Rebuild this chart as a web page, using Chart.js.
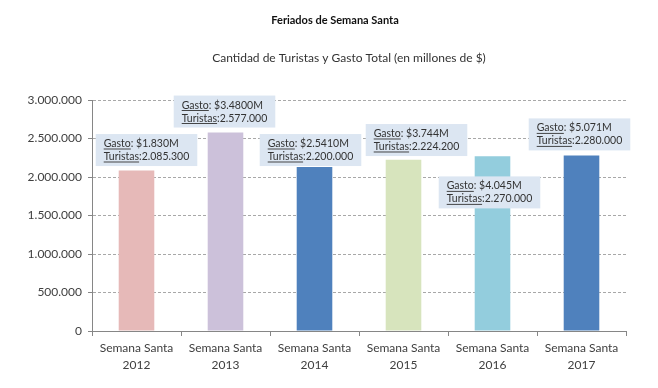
<!DOCTYPE html>
<html><head><meta charset="utf-8">
<script src="https://cdn.jsdelivr.net/npm/chart.js@4"></script>
<style>html,body{margin:0;padding:0;background:#fff}#wrap{width:658px;height:388px}</style>
</head><body><div id="wrap"><canvas id="c" width="658" height="388"></canvas></div>
<script>
const categories = [['Semana Santa','2012'],['Semana Santa','2013'],['Semana Santa','2014'],['Semana Santa','2015'],['Semana Santa','2016'],['Semana Santa','2017']];
const turistas = [2085300, 2577000, 2130000, 2224200, 2270000, 2280000];
const gastoLabels = ['$1.830M', '$3.4800M', '$2.5410M', '$3.744M', '$4.045M', '$5.071M'];
const turistasLabels = ['2.085.300', '2.577.000', '2.200.000', '2.224.200', '2.270.000', '2.280.000'];
const yTicks = [0, 500000, 1000000, 1500000, 2000000, 2500000, 3000000];
const titleText = 'Feriados de Semana Santa';
const subtitleText = 'Cantidad de Turistas y Gasto Total (en millones de $)';

const barColors = ['#E6B9B8', '#CCC1DA', '#4F81BD', '#D7E4BD', '#93CDDD', '#4F81BD'];
// callout placement: horizontal pixel shift from bar centre, vertical centre in data units
const calloutPos = [
  {dx: 10, y: 2350000}, {dx: -1, y: 2850000}, {dx: -4, y: 2350000},
  {dx: 13, y: 2480000}, {dx: -3, y: 1800000}, {dx: -2, y: 2553000}
];
const FONT = 'Lato, "Open Sans", sans-serif';

function fmt(v){ return String(v).replace(/\B(?=(\d{3})+(?!\d))/g, '.'); }

const titlePlugin = {
  id: 'titles',
  afterDraw(chart){
    const ctx = chart.ctx;
    ctx.save();
    ctx.textAlign = 'center';
    ctx.textBaseline = 'middle';
    ctx.fillStyle = '#111';
    ctx.font = 'bold 11px ' + FONT;
    ctx.fillText(titleText, 335, 20);
    ctx.fillStyle = '#333';
    ctx.font = '12px ' + FONT;
    ctx.fillText(subtitleText, 349, 58);
    ctx.restore();
  }
};

const calloutPlugin = {
  id: 'callouts',
  afterDatasetsDraw(chart){
    const ctx = chart.ctx;
    const meta = chart.getDatasetMeta(0);
    const ys = chart.scales.y;
    ctx.save();
    ctx.font = '10.5px ' + FONT;
    meta.data.forEach((bar, i) => {
      const l1a = 'Gasto', l1b = ': ' + gastoLabels[i];
      const l2a = 'Turistas', l2b = ':' + turistasLabels[i];
      const w1 = ctx.measureText(l1a + l1b).width;
      const w2 = ctx.measureText(l2a + l2b).width;
      const w = Math.max(w1, w2) + 16;
      const h = 32;
      const cx = bar.x + calloutPos[i].dx;
      const cy = ys.getPixelForValue(calloutPos[i].y);
      const left = cx - w / 2, top = cy - h / 2;
      ctx.fillStyle = '#DCE6F2';
      ctx.fillRect(left, top, w, h);
      ctx.fillStyle = '#333';
      ctx.textBaseline = 'alphabetic';
      ctx.textAlign = 'left';
      const tx = left + 8;
      [[l1a, l1b, top + 13], [l2a, l2b, top + 26]].forEach(([a, b, by]) => {
        ctx.fillText(a, tx, by);
        const wa = ctx.measureText(a).width;
        ctx.fillRect(tx, by + 1.5, wa, 0.9);
        ctx.fillText(b, tx + wa, by);
      });
    });
    ctx.restore();
  }
};

new Chart(document.getElementById('c'), {
  type: 'bar',
  data: {
    labels: categories,
    datasets: [{
      data: turistas,
      backgroundColor: barColors,
      borderWidth: 0,
      categoryPercentage: 1,
      barPercentage: 0.4
    }]
  },
  options: {
    responsive: false,
    animation: false,
    devicePixelRatio: 1,
    layout: { padding: { top: 100, right: 32, left: 0, bottom: 0 } },
    plugins: { legend: { display: false }, tooltip: { enabled: false } },
    scales: {
      x: {
        afterFit(s){ s.height = 57; },
        grid: { display: true, drawOnChartArea: false, drawTicks: true, tickLength: 5, color: '#868686', offset: true },
        border: { color: '#868686', width: 1 },
        ticks: { color: '#404040', font: { family: FONT, size: 12, lineHeight: 1.4 }, padding: 4, maxRotation: 0 }
      },
      y: {
        min: 0, max: 3000000,
        afterFit(s){ s.width = 92; },
        afterBuildTicks(s){ s.ticks = yTicks.map(v => ({ value: v })); },
        grid: { color: '#A8A8A8', tickLength: 4, tickColor: '#868686', drawTicks: true },
        border: { color: '#868686', width: 1, dash: [3, 2] },
        ticks: { color: '#404040', font: { family: FONT, size: 12 }, padding: 6, callback: v => fmt(v) }
      }
    }
  },
  plugins: [titlePlugin, calloutPlugin]
});
</script></body></html>
